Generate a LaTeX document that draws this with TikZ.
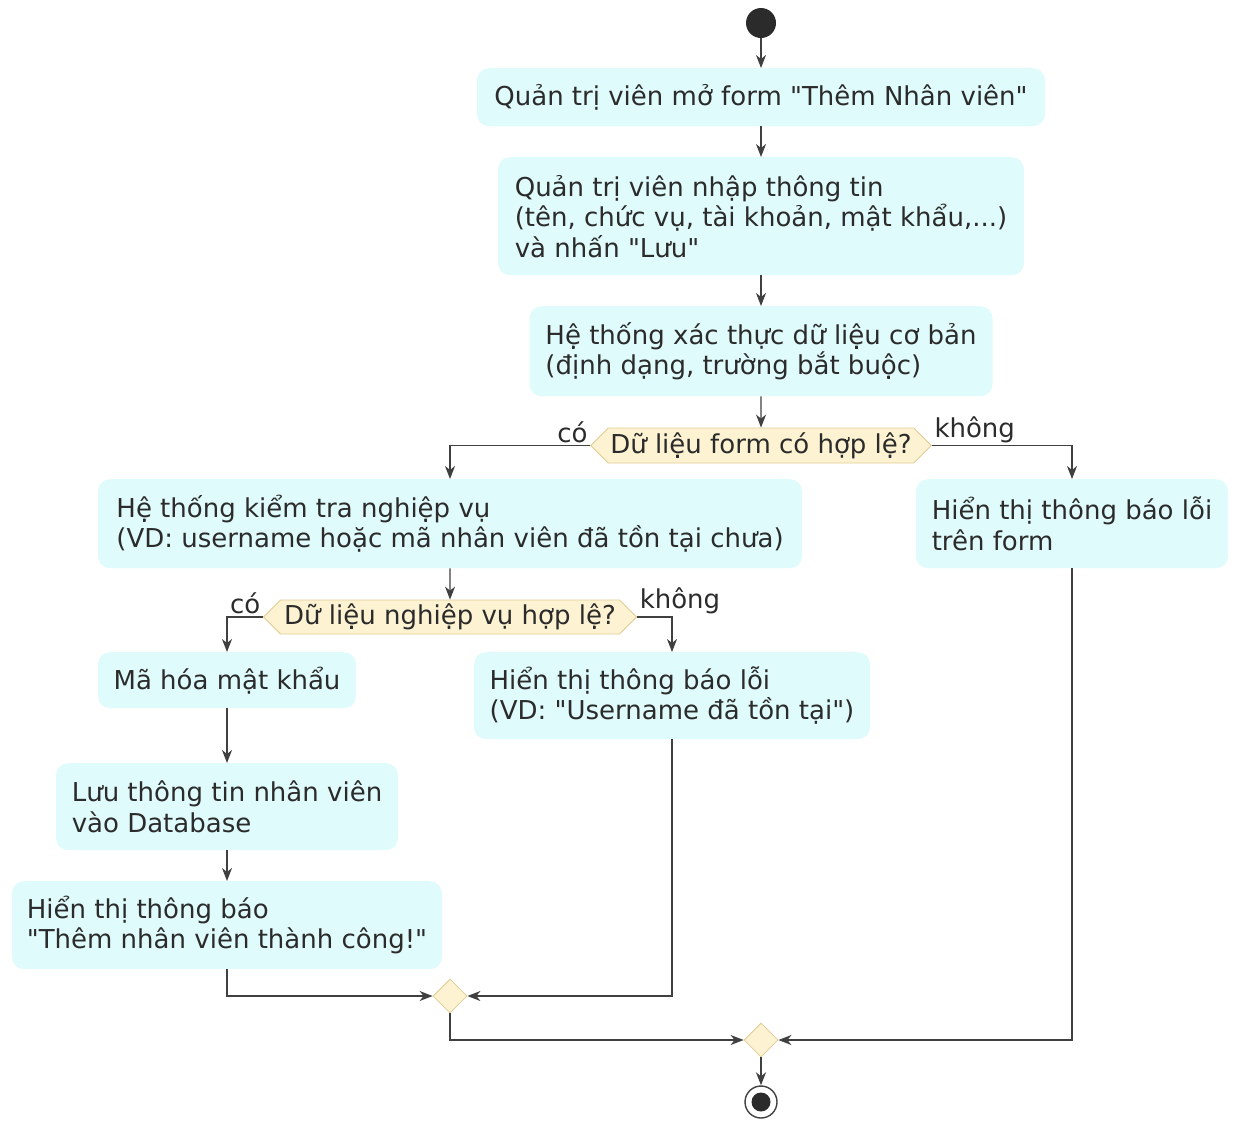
\documentclass[tikz,border=0pt]{standalone}
\usepackage{fontspec}
\setmainfont{DejaVu Sans}[Ligatures=TeXOff]
\usetikzlibrary{arrows.meta,shapes.geometric,shapes.symbols}

\definecolor{actfill}{HTML}{E0FBFC}
\definecolor{decfill}{HTML}{FDF3D2}
\definecolor{decline}{HTML}{E0CC94}
\definecolor{linec}{HTML}{404040}
\definecolor{txtc}{HTML}{2B2B2B}

\tikzset{
  basefont/.style={font=\fontsize{26}{30.5}\selectfont, text=txtc},
  actbox/.style 2 args={basefont, rectangle, rounded corners=12pt, fill=actfill,
    draw=none, anchor=north, inner xsep=10pt, inner ysep=0pt,
    minimum width=#1, minimum height=#2, align=left},
  decbox/.style 2 args={basefont, signal, signal to=west and east,
    signal pointer angle=90, fill=decfill, draw=decline, line width=0.8pt,
    inner xsep=2pt, inner ysep=0pt, minimum width=#1, minimum height=#2},
  mergebox/.style={diamond, fill=decfill, draw=decline, line width=0.8pt,
    minimum size=34pt, inner sep=0pt},
  flow/.style={draw=linec, line width=1.4pt,
    -{Stealth[length=13pt,width=10pt,inset=4pt]}},
  lbl/.style={basefont, inner sep=2pt}
}

\begin{document}
\begin{tikzpicture}[x=1pt,y=-1pt]
\useasboundingbox (0,0) rectangle (1238,1120);

% start and end
\node[circle, fill=txtc, minimum size=30pt, inner sep=0pt] (start) at (761,23) {};
\node[circle, draw=linec, line width=1.4pt, minimum size=32pt, inner sep=0pt,
  path picture={\fill[txtc] (path picture bounding box.center) circle (9.5pt);}]
  (stop) at (761,1102) {};

% main column
\node[actbox={568pt}{58pt}] (b1) at (761,68)
  {Quản trị viên mở form "Thêm Nhân viên"};
\node[actbox={526pt}{118pt}] (b2) at (761,157)
  {Quản trị viên nhập thông tin\\(tên, chức vụ, tài khoản, mật khẩu,...)\\và nhấn "Lưu"};
\node[actbox={463pt}{90pt}] (b3) at (761,306)
  {Hệ thống xác thực dữ liệu cơ bản\\(định dạng, trường bắt buộc)};
\node[decbox={338pt}{35pt}] (d1) at (761,445.5) {Dữ liệu form có hợp lệ?};

\node[actbox={704pt}{89pt}] (b4) at (450,479)
  {Hệ thống kiểm tra nghiệp vụ\\(VD: username hoặc mã nhân viên đã tồn tại chưa)};
\node[actbox={312pt}{89pt}] (b5) at (1072,479)
  {Hiển thị thông báo lỗi\\trên form};

\node[decbox={373pt}{34pt}] (d2) at (450,617) {Dữ liệu nghiệp vụ hợp lệ?};

\node[actbox={258pt}{56pt}] (b6) at (227,652) {Mã hóa mật khẩu};
\node[actbox={396pt}{87pt}] (b7) at (672,652)
  {Hiển thị thông báo lỗi\\(VD: "Username đã tồn tại")};
\node[actbox={342pt}{87pt}] (b8) at (227,763)
  {Lưu thông tin nhân viên\\vào Database};
\node[actbox={430pt}{88pt}] (b9) at (227,881)
  {Hiển thị thông báo\\"Thêm nhân viên thành công!"};

\node[mergebox] (m1) at (450,996) {};
\node[mergebox] (m2) at (761,1040) {};

% connectors
\draw[flow] (start) -- (b1);
\draw[flow] (b1) -- (b2);
\draw[flow] (b2) -- (b3);
\draw[flow] (b3) -- (d1);
\draw[flow] (d1.west) -| node[lbl, anchor=south east, pos=0] (l1) {có} (b4.north);
\draw[flow] (d1.east) -| node[lbl, anchor=south west, pos=0] (l2) {không} (b5.north);
\draw[flow] (b4) -- (d2);
\draw[flow] (d2.west) -| node[lbl, anchor=south east, pos=0] (l3) {có} (b6.north);
\draw[flow] (d2.east) -| node[lbl, anchor=south west, pos=0] (l4) {không} (b7.north);
\draw[flow] (b6) -- (b8);
\draw[flow] (b8) -- (b9);
\draw[flow] (b9.south) |- (m1.west);
\draw[flow] (b7.south) |- (m1.east);
\draw[flow] (m1.south) |- (m2.west);
\draw[flow] (b5.south) |- (m2.east);
\draw[flow] (m2) -- (stop);
\end{tikzpicture}
\end{document}
